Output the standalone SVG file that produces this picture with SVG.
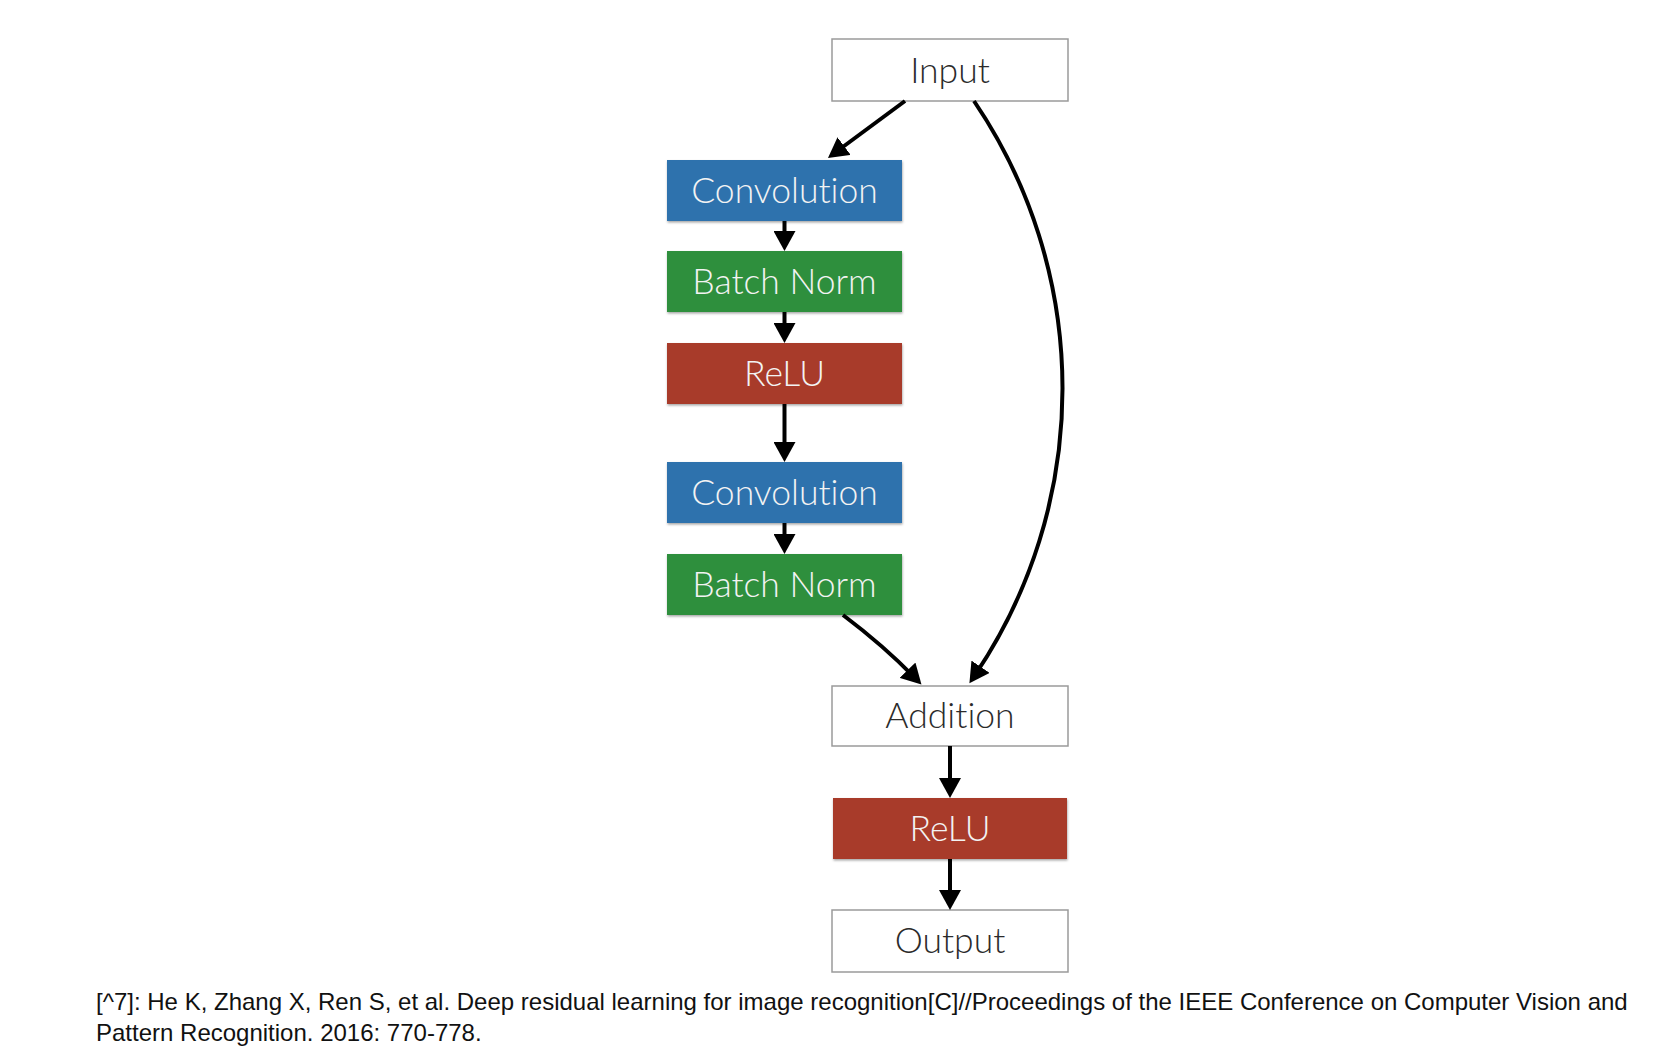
<svg xmlns="http://www.w3.org/2000/svg" width="1678" height="1050" viewBox="0 0 1678 1050">
<defs>
<style>
.wbox{fill:#ffffff;stroke:#9a9a9a;stroke-width:1.5}
.conv{fill:#2d72ad}
.bn{fill:#2e8f3e}
.relu{fill:#a83a2c}
.lbl{font-family:Lato,"Liberation Sans",Arial,sans-serif;font-weight:300;font-size:35.5px;text-anchor:middle;font-variant-ligatures:none;font-feature-settings:"liga" 0}
.dark{fill:#2b2b2b}
.light{fill:#f3f3f3}
.edge{fill:none;stroke:#000;stroke-width:4}
.cap{font-family:"Liberation Sans",Arial,sans-serif;font-size:24px;fill:#111}
</style>
<marker id="ah" markerUnits="userSpaceOnUse" markerWidth="22" markerHeight="22" refX="10" refY="11" orient="auto">
<path d="M0,0 L20,11 L0,22 z" fill="#000"/>
</marker>
<filter id="sh" x="-5%" y="-10%" width="110%" height="130%">
<feDropShadow dx="0.5" dy="1.5" stdDeviation="1" flood-color="#000" flood-opacity="0.35"/>
</filter>
</defs>
<rect x="0" y="0" width="1678" height="1050" fill="#ffffff"/>

<g id="input"><rect class="wbox" x="832" y="39" width="236" height="62"/><text class="lbl dark" x="950" y="83">Input</text></g>
<g id="conv1"><rect class="conv" filter="url(#sh)" x="667" y="160" width="235" height="61"/><text class="lbl light" x="784.5" y="203">Convolution</text></g>
<g id="bn1"><rect class="bn" filter="url(#sh)" x="667" y="251" width="235" height="61"/><text class="lbl light" x="784.5" y="294">Batch Norm</text></g>
<g id="relu1"><rect class="relu" filter="url(#sh)" x="667" y="343" width="235" height="61"/><text class="lbl light" x="784.5" y="386">ReLU</text></g>
<g id="conv2"><rect class="conv" filter="url(#sh)" x="667" y="462" width="235" height="61"/><text class="lbl light" x="784.5" y="505">Convolution</text></g>
<g id="bn2"><rect class="bn" filter="url(#sh)" x="667" y="554" width="235" height="61"/><text class="lbl light" x="784.5" y="597">Batch Norm</text></g>
<g id="addition"><rect class="wbox" x="832" y="686" width="236" height="60"/><text class="lbl dark" x="950" y="728">Addition</text></g>
<g id="relu2"><rect class="relu" filter="url(#sh)" x="833" y="798" width="234" height="61"/><text class="lbl light" x="950" y="841">ReLU</text></g>
<g id="output"><rect class="wbox" x="832" y="910" width="236" height="62"/><text class="lbl dark" x="950" y="953">Output</text></g>

<g id="connectors">
<line class="edge" x1="905" y1="101" x2="836" y2="152" marker-end="url(#ah)"/>
<line class="edge" x1="784.5" y1="221" x2="784.5" y2="241" marker-end="url(#ah)"/>
<line class="edge" x1="784.5" y1="312" x2="784.5" y2="333" marker-end="url(#ah)"/>
<line class="edge" x1="784.5" y1="404" x2="784.5" y2="452" marker-end="url(#ah)"/>
<line class="edge" x1="784.5" y1="523" x2="784.5" y2="544" marker-end="url(#ah)"/>
<path class="edge" d="M843,615 Q884,646 914.5,677.4" marker-end="url(#ah)"/>
<path class="edge" d="M974,101 A512,512 0 0 1 975,675" marker-end="url(#ah)"/>
<line class="edge" x1="950" y1="746" x2="950" y2="788" marker-end="url(#ah)"/>
<line class="edge" x1="950" y1="859" x2="950" y2="900" marker-end="url(#ah)"/>
</g>

<g id="caption">
<text class="cap" x="96" y="1010">[^7]: He K, Zhang X, Ren S, et al. Deep residual learning for image recognition[C]//Proceedings of the IEEE Conference on Computer Vision and</text>
<text class="cap" x="96" y="1041">Pattern Recognition. 2016: 770-778.</text>
</g>
</svg>
